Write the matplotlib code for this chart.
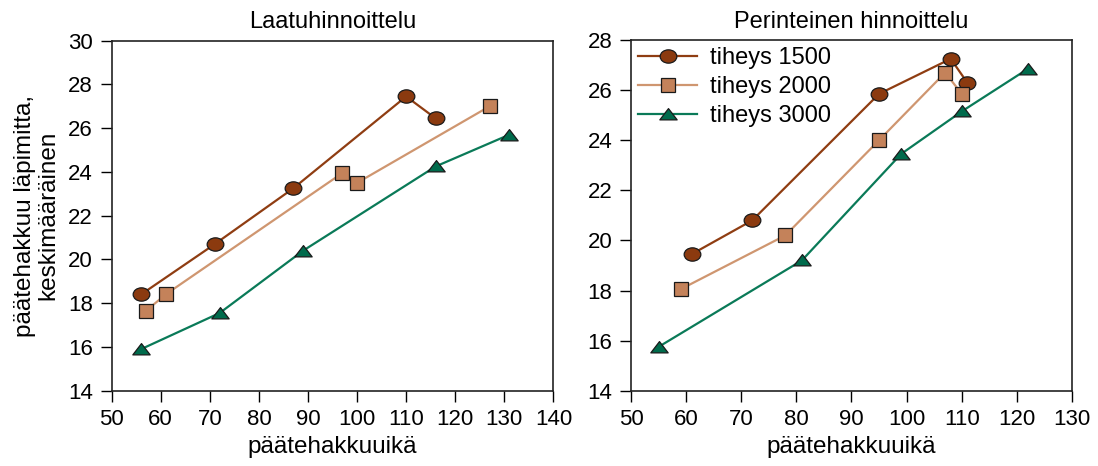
import matplotlib
matplotlib.use("Agg")
import matplotlib.pyplot as plt
from matplotlib.path import Path
from matplotlib.transforms import Affine2D

plt.rcParams['font.family'] = ['Liberation Sans', 'DejaVu Sans']

series_labels = ["tiheys 1500", "tiheys 2000", "tiheys 3000"]

# Laatuhinnoittelu
left_age_1500 = [56, 71, 87, 110, 116]
left_d_1500 = [18.4, 20.7, 23.25, 27.45, 26.45]
left_age_2000 = [57, 61, 97, 100, 127]
left_d_2000 = [17.65, 18.4, 23.95, 23.5, 27.0]
left_age_3000 = [56, 72, 89, 116, 131]
left_d_3000 = [15.9, 17.55, 20.4, 24.25, 25.7]

# Perinteinen hinnoittelu
right_age_1500 = [61, 72, 95, 108, 111]
right_d_1500 = [19.45, 20.8, 25.85, 27.25, 26.3]
right_age_2000 = [59, 78, 95, 107, 110]
right_d_2000 = [18.05, 20.2, 24.0, 26.7, 25.85]
right_age_3000 = [55, 81, 99, 110, 122]
right_d_3000 = [15.75, 19.2, 23.45, 25.15, 26.85]

titles = ["Laatuhinnoittelu", "Perinteinen hinnoittelu"]
xlabel = "päätehakkuuikä"
ylabel = "päätehakkuu läpimitta,\nkeskimääräinen"

ellipse = Path.unit_circle().transformed(Affine2D().scale(1.0, 0.8))
flat_tri = Path([(0, 0.68), (-1, -0.62), (1, -0.62), (0, 0.68)],
                [Path.MOVETO, Path.LINETO, Path.LINETO, Path.CLOSEPOLY])

styles = [
    dict(marker=ellipse, color='#8f3d12', mfc='#8b3a0f', ms=12),
    dict(marker='s', color='#cf9670', mfc='#c4825a', ms=10),
    dict(marker=flat_tri, color='#0a7a58', mfc='#006b4c', ms=12.5),
]

fig = plt.figure(figsize=(10.98, 4.66), dpi=100)
ax1 = fig.add_axes([0.1017, 0.1616, 0.4023, 0.7511])
ax2 = fig.add_axes([0.5747, 0.1616, 0.4016, 0.7525])

left_data = [(left_age_1500, left_d_1500), (left_age_2000, left_d_2000), (left_age_3000, left_d_3000)]
right_data = [(right_age_1500, right_d_1500), (right_age_2000, right_d_2000), (right_age_3000, right_d_3000)]

for ax, data, title in [(ax1, left_data, titles[0]), (ax2, right_data, titles[1])]:
    for (x, y), st, lab in zip(data, styles, series_labels):
        ax.plot(x, y, linestyle='-', lw=1.6, color=st['color'], marker=st['marker'],
                markersize=st['ms'], markerfacecolor=st['mfc'], markeredgecolor='#1a1a1a',
                markeredgewidth=0.9, label=lab)
    ax.set_title(title, fontsize=17, pad=9)
    ax.set_xlabel(xlabel, fontsize=17.5, labelpad=4)
    ax.tick_params(direction='out', length=8, width=1, labelsize=16, pad=5.5)
    for s in ax.spines.values():
        s.set_linewidth(1.2)
        s.set_color('#222222')

ax1.set_xlim(50, 140)
ax1.set_xticks(range(50, 141, 10))
ax1.set_ylim(14, 30)
ax1.set_yticks(range(14, 31, 2))
ax1.set_ylabel(ylabel, fontsize=17.5, labelpad=6, linespacing=1.12)

ax2.set_xlim(50, 130)
ax2.set_xticks(range(50, 131, 10))
ax2.set_ylim(14, 28)
ax2.set_yticks(range(14, 29, 2))

ax2.legend(loc='upper left', frameon=False, fontsize=17, handlelength=2.5,
           borderaxespad=0.1, borderpad=0.2, labelspacing=0.3, handletextpad=0.55)

fig.savefig("out.png", dpi=100)
